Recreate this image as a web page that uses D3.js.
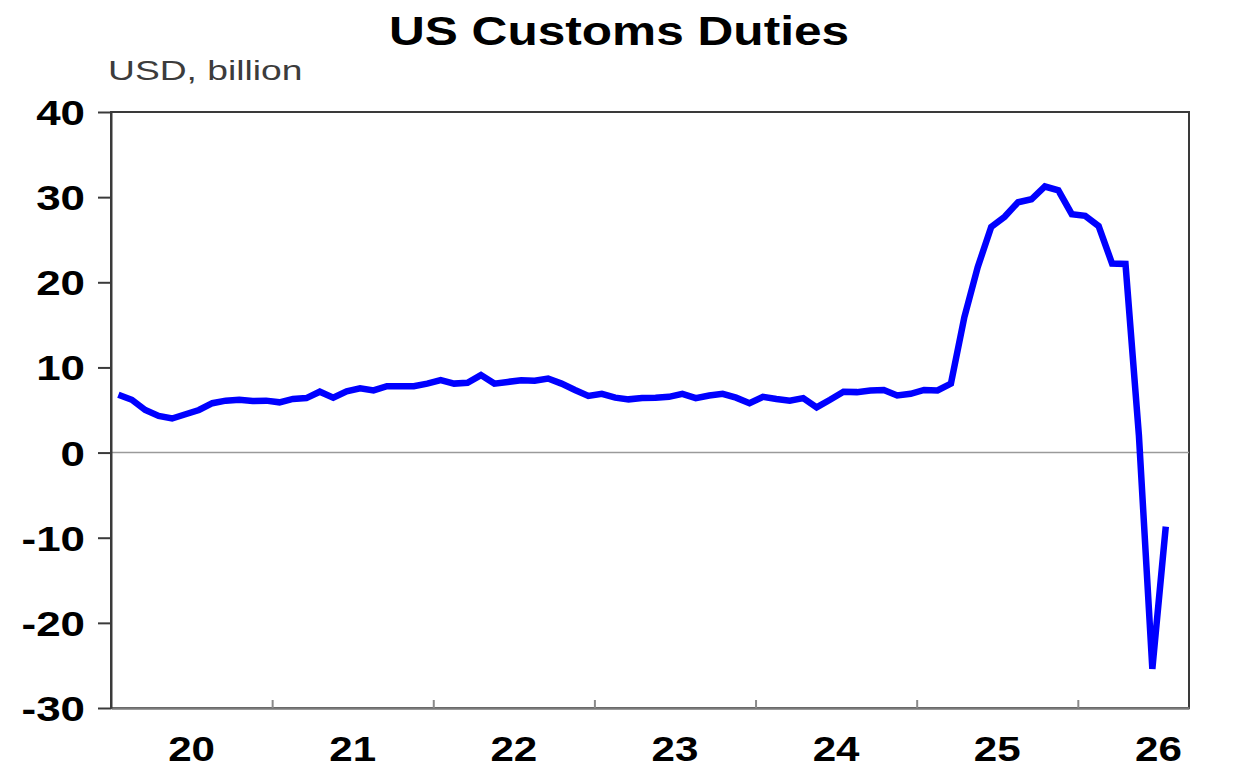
<!DOCTYPE html>
<html>
<head>
<meta charset="utf-8">
<script src="https://cdn.jsdelivr.net/npm/d3@7"></script>
<style>
  body { margin: 0; background: #fff; }
  svg { display: block; }
</style>
</head>
<body>
<div class="vis-customs"></div>
<script>
// monthly customs duties, USD bn, first point = Jan 2020
const startYear = 2020
const values = [
    6.8, 6.2, 5.0, 4.3, 4.0, 4.5, 5.0, 5.8, 6.1, 6.2, 6.05, 6.1,
    5.9, 6.3, 6.4, 7.15, 6.45, 7.2, 7.55, 7.3, 7.8, 7.8, 7.8, 8.1,
    8.5, 8.1, 8.2, 9.1, 8.1, 8.3, 8.5, 8.45, 8.7, 8.1, 7.35, 6.65,
    6.9, 6.45, 6.25, 6.4, 6.45, 6.55, 6.9, 6.4, 6.7, 6.9, 6.45, 5.8,
    6.55, 6.3, 6.1, 6.4, 5.3, 6.2, 7.15, 7.1, 7.3, 7.35, 6.7, 6.9,
    7.35, 7.3, 8.1, 15.9, 21.8, 26.5, 27.7, 29.4, 29.75, 31.25, 30.8, 28.0,
    27.8, 26.6, 22.2, 22.15, 2.0, -25.4, -8.7
]
const yearTicks = [2021, 2022, 2023, 2024, 2025, 2026]
const yearLabels = ["20", "21", "22", "23", "24", "25", "26"]
const yTicks = [40, 30, 20, 10, 0, -10, -20, -30]

const title = "US Customs Duties"
const unitLabel = "USD, billion"

const width = 1240
const height = 780
const margin = ({left: 111, right: 51, top: 112, bottom: 72})
const stretch = 1.22   // the reference text is drawn wide

const svg = d3.select('.vis-customs')
    .append('svg')
    .attr("width", width)
    .attr("height", height)
    .style("font-family", "'Liberation Sans', Arial, sans-serif")

const x = d3.scaleLinear()
    .domain([startYear, 2026.69])
    .range([margin.left, width - margin.right])

const y = d3.scaleLinear()
    .domain([-30, 40])
    .range([height - margin.bottom, margin.top])

const data = values.map((v, i) => ({t: startYear + (i + 0.55) / 12, v: v}))

// stretched text helper
const wideText = (g, tx, ty, txt, opts) => g.append("text")
    .attr("transform", `translate(${tx},${ty}) scale(${opts.sx || stretch},1)`)
    .attr("text-anchor", opts.anchor || "middle")
    .attr("dy", opts.dy || null)
    .attr("font-size", opts.size)
    .attr("font-weight", opts.weight || "bold")
    .attr("fill", opts.fill || "#000")
    .text(txt)

// frame: top and right
svg.append("rect")
    .attr("x", x.range()[0])
    .attr("y", margin.top)
    .attr("width", x.range()[1] - x.range()[0])
    .attr("height", y.range()[0] - margin.top)
    .attr("fill", "none")
    .attr("stroke", "#3a3a3a")
    .attr("stroke-width", 2)

// zero line
svg.append("line")
    .attr("x1", x.range()[0]).attr("x2", x.range()[1])
    .attr("y1", y(0)).attr("y2", y(0))
    .attr("stroke", "#9a9a9a")
    .attr("stroke-width", 1.5)

// x axis, ticks point up into the plot
const xAxis = svg.append("g")
    .attr("transform", `translate(0,${y(-30)})`)
    .call(d3.axisTop(x).tickValues(yearTicks).tickSize(8).tickSizeOuter(0).tickFormat(""))
xAxis.select(".domain").attr("stroke", "#7a7a7a").attr("stroke-width", 2.5)
xAxis.selectAll(".tick line").attr("stroke", "#8a8a8a").attr("stroke-width", 2)

yearLabels.forEach((lab, i) => {
    wideText(svg, x(startYear + i + 0.5), 761, lab, {size: 36, sx: 1.17})
})

// y axis
const yAxis = svg.append("g")
    .attr("transform", `translate(${x.range()[0]},0)`)
    .call(d3.axisLeft(y).tickValues(yTicks).tickSize(13).tickSizeOuter(0).tickFormat(""))
yAxis.select(".domain").attr("stroke", "#3a3a3a").attr("stroke-width", 2)
yAxis.selectAll(".tick line").attr("stroke", "#3a3a3a").attr("stroke-width", 2)

yTicks.forEach(t => {
    wideText(svg, 85, y(t), t, {size: 36, anchor: "end", dy: "0.36em"})
})

// series
svg.append("path")
    .datum(data)
    .attr("fill", "none")
    .attr("stroke", "#0000ff")
    .attr("stroke-width", 6.5)
    .attr("stroke-linecap", "butt")
    .attr("d", d3.line().x(d => x(d.t)).y(d => y(d.v)))

// titles
wideText(svg, 619, 45, title, {size: 40, sx: 1.24})
wideText(svg, 108, 80, unitLabel, {size: 28, anchor: "start", weight: "normal", fill: "#3c3c3c", sx: 1.33})
</script>
</body>
</html>
